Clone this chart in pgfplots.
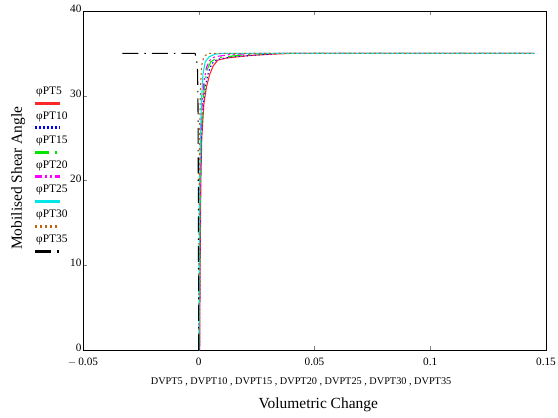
\documentclass[border=0pt]{standalone}
\usepackage{pgfplots}
\pgfplotsset{compat=1.18}
\usepackage{fontspec}
\setmainfont{Liberation Serif}
\definecolor{ptred}{RGB}{255,40,40}
\definecolor{ptbrown}{RGB}{190,100,20}
\definecolor{ptmag}{RGB}{255,0,255}
\definecolor{ptgreen}{RGB}{0,230,0}
\definecolor{ptcyan}{RGB}{0,230,230}
\tikzset{
  s5/.style={draw=ptred, line width=1.1pt, solid},
  s10/.style={draw=blue, line width=1.1pt, dash pattern=on 1.5bp off 2.5bp},
  s15/.style={draw=ptgreen, line width=1.1pt, dash pattern=on 14bp off 6bp on 2bp off 6bp},
  s20/.style={draw=ptmag, line width=1.1pt, dash pattern=on 7bp off 3bp on 2bp off 3bp on 2bp off 3bp},
  s25/.style={draw=ptcyan, line width=1.1pt, solid},
  s30/.style={draw=ptbrown, line width=1.1pt, dash pattern=on 2bp off 3bp},
  s35/.style={draw=black, line width=1.1pt, dash pattern=on 16bp off 6bp on 1.5bp off 6bp},
  lg/.style={font=\fontsize{11.5}{13}\selectfont, anchor=west, inner sep=0pt},
  ll/.style={line width=2.6pt},
}
\begin{document}
\begin{tikzpicture}[x=1bp,y=1bp]
\useasboundingbox (0,0) rectangle (558,417);
\begin{axis}[
  at={(83bp,67bp)}, anchor=south west,
  scale only axis, width=463bp, height=339bp,
  xmin=-0.05, xmax=0.15, ymin=0, ymax=40,
  xtick={-0.05,0,0.05,0.1,0.15},
  xticklabels={$-$\,0.05,0,0.05,0.1,0.15},
  ytick={0,10,20,30,40},
  tick align=inside,
  major tick length=4bp,
  xtick pos=both, ytick pos=left,
  /pgf/number format/assume math mode=true,
  tick label style={font=\fontsize{11.3}{12}\selectfont},
  yticklabel style={xshift=2bp, yshift=2bp},
  xticklabel style={yshift=-4bp},
  axis line style={black, line width=0.7pt},
  ylabel={Mobilised Shear Angle},
  ylabel style={font=\fontsize{15.5}{17}\selectfont, at={(axis description cs:-0.140,0.507)}, anchor=center},
  xlabel={Volumetric Change},
  xlabel style={font=\fontsize{15.5}{17}\selectfont, at={(axis description cs:0.508,-0.162)}, anchor=center},
  clip=false,
]
\addplot[s5] coordinates {(0.0004,0)(0.0006,10)(0.0009,20)(0.0013,25)(0.0022,29)(0.0033,31)(0.0047,32.5)(0.0062,33.5)(0.0082,34.2)(0.012,34.45)(0.022,34.75)(0.031,34.9)(0.04,35)(0.145,35)};
\addplot[s10] coordinates {(0.0003,0)(0.0005,10)(0.0008,20)(0.0011,25)(0.0019,29)(0.0029,31.2)(0.0042,32.8)(0.0057,33.8)(0.008,34.3)(0.015,34.6)(0.025,34.8)(0.035,35)(0.145,35)};
\addplot[s15] coordinates {(0.0002,0)(0.0004,10)(0.0007,20)(0.001,25)(0.0017,29)(0.0026,31.5)(0.0038,33.2)(0.0052,34)(0.008,34.5)(0.015,34.7)(0.022,34.9)(0.03,35)(0.145,35)};
\addplot[s20] coordinates {(0.0001,0)(0.0003,10)(0.0006,20)(0.0009,25)(0.0015,29)(0.0023,31.8)(0.0034,33.4)(0.0048,34.2)(0.007,34.6)(0.013,34.85)(0.025,35)(0.145,35)};
\addplot[s25] coordinates {(0.0001,0)(0.0002,10)(0.0004,20)(0.0007,25)(0.0012,29.5)(0.0018,32.5)(0.0028,34)(0.0045,34.6)(0.007,34.9)(0.01,35)(0.145,35)};
\addplot[s30] coordinates {(0,0)(0.0001,10)(0.0002,20)(0.0004,26)(0.0007,30.5)(0.0012,33.5)(0.0022,34.6)(0.004,35)(0.145,35)};
\addplot[s35] coordinates {(-0.033,35)(-0.0016,35)(-0.0009,34.2)(-0.0005,32.8)(-0.0003,28)(-0.0002,20)(-0.0001,10)(0,0)};
\node[font=\fontsize{10.3}{12}\selectfont, anchor=center] at (axis description cs:0.471,-0.094) {DVPT5 , DVPT10 , DVPT15 , DVPT20 , DVPT25 , DVPT30 , DVPT35};
\end{axis}
\node[lg] at (36,325) {φPT5};   \draw[s5,ll]  (35,313.5) -- (60,313.5);
\node[lg] at (36,300) {φPT10};  \draw[s10,ll] (35,289.5) -- (60,289.5);
\node[lg] at (36,276) {φPT15};  \draw[s15,ll] (35,264.5) -- (60,264.5);
\node[lg] at (36,251) {φPT20};  \draw[s20,ll] (35,240.5) -- (60,240.5);
\node[lg] at (36,227) {φPT25};  \draw[s25,ll] (35,215.5) -- (60,215.5);
\node[lg] at (36,202) {φPT30};  \draw[s30,ll] (35,190.5) -- (60,190.5);
\node[lg] at (36,177) {φPT35};  \draw[s35,ll] (35,165.5) -- (60,165.5);
\end{tikzpicture}
\end{document}
